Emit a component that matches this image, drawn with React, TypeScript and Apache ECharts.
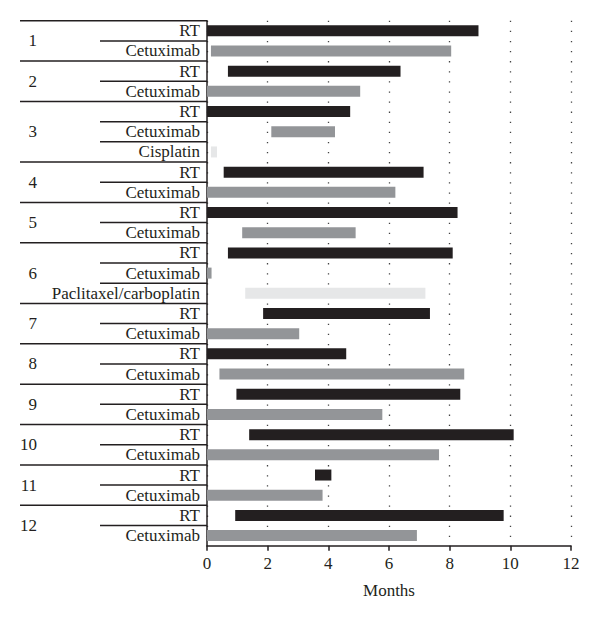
import React, { useEffect, useRef } from "react";
import * as echarts from "echarts";

const rowPatient = [1, 1, 2, 2, 3, 3, 3, 4, 4, 5, 5, 6, 6, 6, 7, 7, 8, 8, 9, 9, 10, 10, 11, 11, 12, 12];
const rowTreatment = [
  "RT", "Cetuximab",
  "RT", "Cetuximab",
  "RT", "Cetuximab", "Cisplatin",
  "RT", "Cetuximab",
  "RT", "Cetuximab",
  "RT", "Cetuximab", "Paclitaxel/carboplatin",
  "RT", "Cetuximab",
  "RT", "Cetuximab",
  "RT", "Cetuximab",
  "RT", "Cetuximab",
  "RT", "Cetuximab",
  "RT", "Cetuximab",
];
const rowStart = [
  0, 0.13,
  0.69, 0,
  0, 2.12, 0.13,
  0.55, 0,
  0, 1.16,
  0.69, 0, 1.26,
  1.85, 0,
  0, 0.41,
  0.97, 0,
  1.39, 0,
  3.56, 0,
  0.93, 0,
];
const rowEnd = [
  8.95, 8.05,
  6.38, 5.05,
  4.72, 4.22, 0.33,
  7.14, 6.21,
  8.26, 4.9,
  8.1, 0.15, 7.2,
  7.35, 3.04,
  4.59, 8.48,
  8.35, 5.78,
  10.11, 7.65,
  4.1, 3.81,
  9.78, 6.92,
];
const xTicks = [0, 2, 4, 6, 8, 10, 12];
const treatmentColor: Record<string, string> = {
  RT: "#231f20",
  Cetuximab: "#939598",
  Cisplatin: "#e6e7e8",
  "Paclitaxel/carboplatin": "#e6e7e8",
};

const FONT = "'Liberation Serif', 'Times New Roman', serif";

export default function App() {
  const ref = useRef<HTMLDivElement>(null);
  useEffect(() => {
    if (!ref.current) return;
    const chart = echarts.init(ref.current, undefined, { renderer: "svg" });
    const cats = rowTreatment.map((t, i) => `${i}|${t}`);
    chart.setOption({
      animation: false,
      grid: { left: 207, right: 29, top: 20.7, bottom: 76.3, containLabel: false },
      xAxis: {
        type: "value",
        min: xTicks[0],
        max: xTicks[xTicks.length - 1],
        interval: 2,
        name: "Months",
        nameLocation: "middle",
        nameGap: 36,
        nameTextStyle: { fontFamily: FONT, fontSize: 17, color: "#231f20" },
        axisLine: { show: true, lineStyle: { color: "#231f20", width: 1.5 } },
        axisTick: { show: true, inside: false, length: 5, lineStyle: { color: "#231f20", width: 1.5 } },
        axisLabel: { fontFamily: FONT, fontSize: 17, color: "#231f20", margin: 9 },
        splitLine: { show: true, lineStyle: { type: [1.3, 8.8], color: "#444", width: 1.3 } },
      },
      yAxis: {
        type: "category",
        inverse: true,
        data: cats,
        axisLine: { show: true, onZero: false, lineStyle: { color: "#231f20", width: 1.5 } },
        axisTick: { show: false },
        splitLine: { show: false },
        axisLabel: {
          fontFamily: FONT,
          fontSize: 17,
          color: "#231f20",
          margin: 7,
          interval: 0,
          formatter: (v: string) => v.split("|")[1],
        },
      },
      series: [
        {
          type: "bar",
          stack: "t",
          silent: true,
          barWidth: 11,
          itemStyle: { color: "transparent" },
          data: rowStart,
        },
        {
          type: "bar",
          stack: "t",
          barWidth: 11,
          data: rowEnd.map((e, i) => ({
            value: +(e - rowStart[i]).toFixed(3),
            itemStyle: { color: treatmentColor[rowTreatment[i]] },
          })),
        },
      ],
    });

    const x0 = chart.convertToPixel({ xAxisIndex: 0 }, 0) as number;
    const c0 = chart.convertToPixel({ yAxisIndex: 0 }, cats[0]) as number;
    const c1 = chart.convertToPixel({ yAxisIndex: 0 }, cats[1]) as number;
    const band = c1 - c0;
    const graphics: any[] = [];
    const lineStyle = { stroke: "#231f20", lineWidth: 1.5 };
    rowPatient.forEach((p, i) => {
      const c = chart.convertToPixel({ yAxisIndex: 0 }, cats[i]) as number;
      const top = c - band / 2;
      const first = i === 0 || rowPatient[i - 1] !== p;
      graphics.push({
        type: "line",
        shape: { x1: first ? 20 : 100, y1: top, x2: x0, y2: top },
        style: lineStyle,
        silent: true,
      });
      if (first) {
        let n = 0;
        while (i + n < rowPatient.length && rowPatient[i + n] === p) n++;
        graphics.push({
          type: "text",
          x: 37,
          y: top + (n * band) / 2,
          style: {
            text: String(p),
            fontFamily: FONT,
            fontSize: 17,
            fill: "#231f20",
            align: "right",
            verticalAlign: "middle",
          },
        });
      }
    });
    chart.setOption({ graphic: graphics });
    return () => chart.dispose();
  }, []);
  return <div ref={ref} style={{ width: 600, height: 622, margin: -8 }} />;
}
